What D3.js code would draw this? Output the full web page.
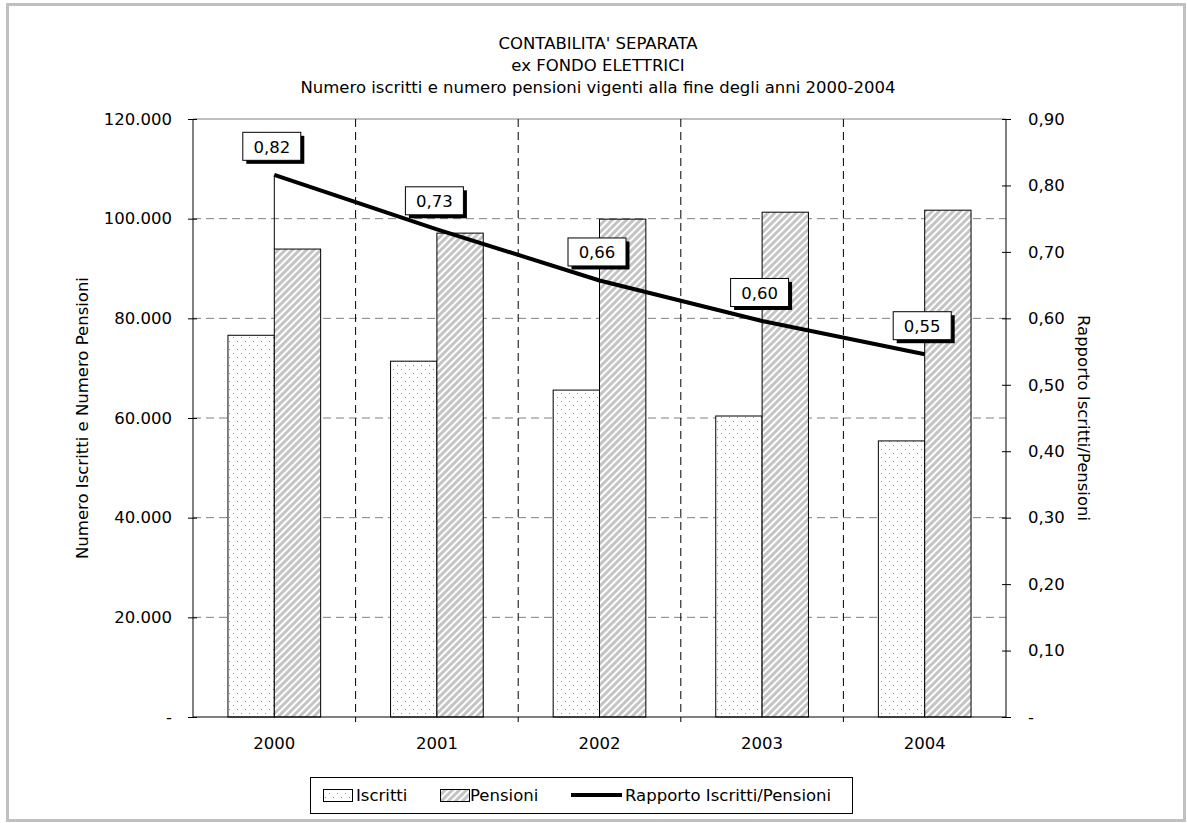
<!DOCTYPE html>
<html><head><meta charset="utf-8">
<script src="https://cdn.jsdelivr.net/npm/d3@7"></script>
<style>body{margin:0;background:#fff}svg{display:block}text{font-family:"DejaVu Sans",Verdana,sans-serif;fill:#000}</style>
</head><body><svg id="c" width="1187" height="823"></svg>
<script>
const years = ["2000","2001","2002","2003","2004"];
const iscritti = [76600, 71400, 65600, 60400, 55400];
const pensioni = [93900, 97100, 99900, 101300, 101700];
const rapporto = [0.816, 0.734, 0.657, 0.596, 0.546];
const leftTicks = [0, 20000, 40000, 60000, 80000, 100000, 120000];
const rightTicks = [0, 0.1, 0.2, 0.3, 0.4, 0.5, 0.6, 0.7, 0.8, 0.9];
const titleLines = ["CONTABILITA' SEPARATA", "ex FONDO ELETTRICI", "Numero iscritti e numero pensioni vigenti alla fine degli anni 2000-2004"];
const seriesNames = ["Iscritti", "Pensioni", "Rapporto Iscritti/Pensioni"];

const FS = 16.5;
const svg = d3.select("#c");
const loc = d3.formatLocale({decimal: ",", thousands: ".", grouping: [3], currency: ["", "€"]});
const fmtL = v => v === 0 ? "-" : loc.format(",.0f")(v);
const fmtR = v => v === 0 ? "-" : loc.format(".2f")(v);

const L = 193, R = 1006, T = 119, B = 717;
const x = d3.scaleBand().domain(years).range([L, R]).paddingInner(0.43).paddingOuter(0.215);
const yL = d3.scaleLinear().domain([0, 120000]).range([B, T]);
const yR = d3.scaleLinear().domain([0, 0.9]).range([B, T]);
const step = x.step();
const gap = (step - x.bandwidth()) / 2;

// border
svg.append("rect").attr("x", 7.5).attr("y", 4.5).attr("width", 1177).attr("height", 816)
  .attr("fill", "#fff").attr("stroke", "#c0c0c0").attr("stroke-width", 3);

// patterns
const defs = svg.append("defs");
const pd = defs.append("pattern").attr("id", "dots").attr("patternUnits", "userSpaceOnUse").attr("width", 8).attr("height", 8);
pd.append("rect").attr("width", 8).attr("height", 8).attr("fill", "#fff");
pd.append("rect").attr("x", 1).attr("y", 1).attr("width", 1).attr("height", 1).attr("fill", "#e8609a");
pd.append("rect").attr("x", 5).attr("y", 5).attr("width", 1).attr("height", 1).attr("fill", "#e8609a");
const ph = defs.append("pattern").attr("id", "hatch").attr("patternUnits", "userSpaceOnUse").attr("width", 5).attr("height", 5).attr("patternTransform", "rotate(45)");
ph.append("rect").attr("width", 5).attr("height", 5).attr("fill", "#c4c4c4");
ph.append("rect").attr("x", 0).attr("width", 2).attr("height", 5).attr("fill", "#fff");

// title
svg.append("g").selectAll("text").data(titleLines).join("text")
  .attr("x", 598).attr("y", (d, i) => 49 + i * 22).attr("text-anchor", "middle").attr("font-size", FS).text(d => d);

// horizontal grid
const g = svg.append("g");
g.selectAll("line.h").data(leftTicks.filter(t => t > 0 && t < 120000)).join("line")
  .attr("x1", L).attr("x2", R).attr("y1", d => yL(d)).attr("y2", d => yL(d))
  .attr("stroke", "#808080").attr("stroke-dasharray", "8,5");
g.append("line").attr("x1", L).attr("x2", R).attr("y1", T).attr("y2", T).attr("stroke", "#808080");
// vertical grid at category boundaries
g.selectAll("line.v").data(years.slice(1)).join("line")
  .attr("x1", d => x(d) - gap).attr("x2", d => x(d) - gap)
  .attr("y1", T).attr("y2", B).attr("stroke", "#000").attr("stroke-dasharray", "8,5");

// bars
const bw = x.bandwidth() / 2;
svg.append("g").selectAll("rect").data(years).join("rect")
  .attr("x", d => x(d)).attr("y", (d, i) => yL(iscritti[i])).attr("width", bw)
  .attr("height", (d, i) => B - yL(iscritti[i])).attr("fill", "url(#dots)").attr("stroke", "#000");
svg.append("g").selectAll("rect").data(years).join("rect")
  .attr("x", d => x(d) + bw).attr("y", (d, i) => yL(pensioni[i])).attr("width", bw)
  .attr("height", (d, i) => B - yL(pensioni[i])).attr("fill", "url(#hatch)").attr("stroke", "#000");

// axes
const axL = svg.append("g").attr("transform", `translate(${L},0)`)
  .call(d3.axisLeft(yL).tickValues(leftTicks).tickFormat(fmtL).tickSize(5).tickPadding(16));
axL.selectAll(".tick line").attr("x2", -5).attr("x1", 4);
const axR = svg.append("g").attr("transform", `translate(${R},0)`)
  .call(d3.axisRight(yR).tickValues(rightTicks).tickFormat(fmtR).tickSize(5).tickPadding(17));
axR.selectAll(".tick line").attr("x2", 5).attr("x1", -4);
const axB = svg.append("g").attr("transform", `translate(0,${B})`)
  .call(d3.axisBottom(x).tickSize(0).tickPadding(20));
[axL, axR, axB].forEach(a => {
  a.select(".domain").remove();
  a.selectAll("text").attr("font-size", FS).attr("font-family", "DejaVu Sans");
});
svg.append("line").attr("x1", L).attr("x2", L).attr("y1", T).attr("y2", B).attr("stroke", "#000");
svg.append("line").attr("x1", R).attr("x2", R).attr("y1", T).attr("y2", B).attr("stroke", "#000");
svg.append("line").attr("x1", L).attr("x2", R).attr("y1", B).attr("y2", B).attr("stroke", "#000");
svg.append("g").selectAll("line").data(years.slice(1)).join("line")
  .attr("x1", d => x(d) - gap).attr("x2", d => x(d) - gap)
  .attr("y1", B).attr("y2", B + 5).attr("stroke", "#000");

// axis titles
svg.append("text").attr("transform", "translate(88,418) rotate(-90)").attr("text-anchor", "middle").attr("font-size", FS).text("Numero Iscritti e Numero Pensioni");
svg.append("text").attr("transform", "translate(1078,418) rotate(90)").attr("text-anchor", "middle").attr("font-size", FS).text("Rapporto Iscritti/Pensioni");

// line
const cx = d => x(d) + x.bandwidth() / 2;
svg.append("line").attr("x1", cx(years[0])).attr("x2", cx(years[0])).attr("y1", yR(rapporto[0])).attr("y2", yL(pensioni[0])).attr("stroke", "#000");
svg.append("path").datum(years).attr("fill", "none").attr("stroke", "#000").attr("stroke-width", 4)
  .attr("d", d3.line().x(d => cx(d)).y((d, i) => yR(rapporto[i])));

// labels
const lab = svg.append("g").selectAll("g").data(years).join("g")
  .attr("transform", (d, i) => `translate(${cx(d) - 2},${yR(rapporto[i]) - 27})`);
lab.append("rect").attr("x", -26).attr("y", -12).attr("width", 58).attr("height", 28).attr("fill", "#000");
lab.append("rect").attr("x", -29.5).attr("y", -15.5).attr("width", 58).attr("height", 28).attr("fill", "#fff").attr("stroke", "#000");
lab.append("text").attr("x", -0.5).attr("y", 5).attr("text-anchor", "middle").attr("font-size", FS).text((d, i) => fmtR(rapporto[i]));

// legend
const lg = svg.append("g");
lg.append("rect").attr("x", 310.5).attr("y", 777.5).attr("width", 542).attr("height", 36).attr("fill", "#fff").attr("stroke", "#000");
lg.append("rect").attr("x", 323.5).attr("y", 789.5).attr("width", 29).attr("height", 12).attr("fill", "url(#dots)").attr("stroke", "#000");
lg.append("text").attr("x", 356).attr("y", 801).attr("font-size", FS).text(seriesNames[0]);
lg.append("rect").attr("x", 440.5).attr("y", 789.5).attr("width", 29).attr("height", 12).attr("fill", "url(#hatch)").attr("stroke", "#000");
lg.append("text").attr("x", 470).attr("y", 801).attr("font-size", FS).text(seriesNames[1]);
lg.append("line").attr("x1", 571).attr("x2", 622).attr("y1", 795).attr("y2", 795).attr("stroke", "#000").attr("stroke-width", 4);
lg.append("text").attr("x", 625).attr("y", 801).attr("font-size", FS).text(seriesNames[2]);
</script></body></html>
